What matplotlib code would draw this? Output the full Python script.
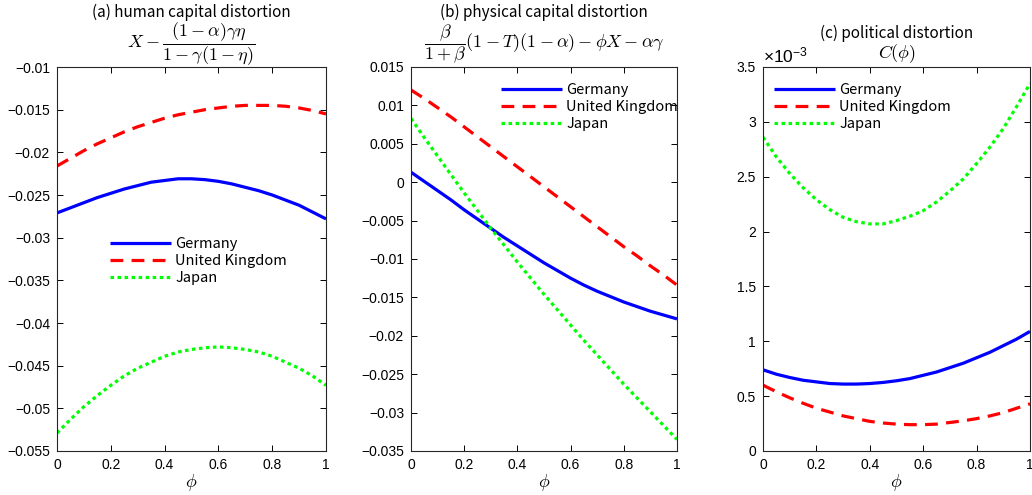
import numpy as np
import matplotlib
matplotlib.use("Agg")
import matplotlib.pyplot as plt
from matplotlib.ticker import FuncFormatter

plt.rcParams['font.family'] = ['Liberation Sans', 'DejaVu Sans']
plt.rcParams['mathtext.fontset'] = 'cm'

# Werte
phi = [0.00, 0.05, 0.10, 0.15, 0.20, 0.25, 0.30, 0.35, 0.40, 0.45, 0.50,
       0.55, 0.60, 0.65, 0.70, 0.75, 0.80, 0.85, 0.90, 0.95, 1.00]
countries = ["Germany", "United Kingdom", "Japan"]

# (a) human capital distortion
human_de = [-0.0271, -0.0265, -0.0259, -0.0253, -0.0248, -0.0243, -0.0239, -0.0235, -0.0233, -0.0231, -0.0231,
            -0.0232, -0.0234, -0.0237, -0.0241, -0.0245, -0.0250, -0.0256, -0.0262, -0.0270, -0.0278]
human_uk = [-0.0216, -0.0207, -0.0198, -0.0190, -0.0183, -0.0176, -0.0170, -0.0165, -0.0160, -0.0156, -0.0153,
            -0.0150, -0.0148, -0.0146, -0.0145, -0.0145, -0.0145, -0.0146, -0.0148, -0.0151, -0.0155]
human_jp = [-0.0529, -0.0513, -0.0498, -0.0485, -0.0473, -0.0462, -0.0453, -0.0446, -0.0439, -0.0434, -0.0431,
            -0.0429, -0.0428, -0.0429, -0.0431, -0.0434, -0.0439, -0.0446, -0.0453, -0.0462, -0.0473]

# (b) physical capital distortion
phys_de = [0.0013, 0.0001, -0.0011, -0.0023, -0.0036, -0.0048, -0.0060, -0.0072, -0.0083, -0.0094, -0.0105,
           -0.0115, -0.0125, -0.0134, -0.0142, -0.0149, -0.0156, -0.0162, -0.0168, -0.0173, -0.0178]
phys_uk = [0.0120, 0.0109, 0.0097, 0.0085, 0.0072, 0.0059, 0.0046, 0.0033, 0.0020, 0.0007, -0.0006,
           -0.0019, -0.0032, -0.0045, -0.0058, -0.0071, -0.0084, -0.0096, -0.0109, -0.0121, -0.0134]
phys_jp = [0.0083, 0.0058, 0.0034, 0.0010, -0.0014, -0.0037, -0.0060, -0.0082, -0.0104, -0.0125, -0.0146,
           -0.0166, -0.0186, -0.0206, -0.0225, -0.0244, -0.0263, -0.0281, -0.0299, -0.0317, -0.0335]

# (c) political distortion, in 1e-3
pol_de = [0.74, 0.70, 0.67, 0.645, 0.63, 0.615, 0.61, 0.61, 0.615, 0.625, 0.64,
          0.66, 0.69, 0.72, 0.76, 0.80, 0.85, 0.90, 0.96, 1.02, 1.09]
pol_uk = [0.60, 0.54, 0.485, 0.435, 0.39, 0.355, 0.32, 0.295, 0.27, 0.255, 0.245,
          0.24, 0.24, 0.245, 0.26, 0.275, 0.295, 0.32, 0.35, 0.39, 0.43]
pol_jp = [2.86, 2.68, 2.53, 2.40, 2.29, 2.20, 2.13, 2.09, 2.07, 2.07, 2.10,
          2.14, 2.19, 2.27, 2.37, 2.48, 2.62, 2.77, 2.94, 3.14, 3.35]

titles = ["(a) human capital distortion", "(b) physical capital distortion", "(c) political distortion"]
formulas = [r"$X-\dfrac{(1-\alpha)\gamma\eta}{1-\gamma(1-\eta)}$",
            r"$\dfrac{\beta}{1+\beta}(1-T)(1-\alpha)-\phi X-\alpha\gamma$",
            r"$C(\phi)$"]

fig = plt.figure(figsize=(10.32, 4.95), dpi=100)
W, H = 1032, 495
boxes = [(57, 326), (411, 677), (763, 1030)]
top, bottom = 67, 451
axes = []
for l, r in boxes:
    ax = fig.add_axes([l / W, (H - bottom) / H, (r - l) / W, (bottom - top) / H])
    axes.append(ax)

styles = [dict(color=(0, 0, 1), linestyle="-"),
          dict(color=(1, 0, 0), linestyle=(0, (4, 2.6))),
          dict(color=(0, 1, 0), linestyle=(0, (1.1, 1.1)))]

data = [
    ([human_de, human_uk, human_jp], np.arange(-0.055, -0.0099, 0.005), (-0.055, -0.01), 1),
    ([phys_de, phys_uk, phys_jp], np.arange(-0.035, 0.0151, 0.005), (-0.035, 0.015), 1),
    ([pol_de, pol_uk, pol_jp], np.arange(0, 3.51, 0.5), (0, 3.5), 1e-3),
]

for ax, (series, yt, ylim, scale) in zip(axes, data):
    for s, name, st in zip(series, countries, styles):
        ax.plot(phi, np.array(s) * scale, lw=2.3, label=name,
                solid_capstyle="butt", dash_capstyle="butt", **st)
    ax.set_xlim(0, 1)
    ax.set_ylim(ylim[0] * scale, ylim[1] * scale)
    ax.set_xticks([0, 0.2, 0.4, 0.6, 0.8, 1])
    ax.set_xticklabels(["0", "0.2", "0.4", "0.6", "0.8", "1"])
    ax.set_yticks(yt * scale)
    ax.yaxis.set_major_formatter(FuncFormatter(lambda v, p, sc=scale: f"{round(v / sc, 6):g}".replace("-", "\u2212")))
    ax.tick_params(direction="in", top=True, right=True, length=4, width=0.7,
                   labelsize=10, colors="black", pad=5)
    for sp in ax.spines.values():
        sp.set_linewidth(0.8)
        sp.set_color((0.15, 0.15, 0.15))
    ax.set_xlabel(r"$\phi$", fontsize=13, labelpad=0)

# Titel
title_y = [(12, 44), (12, 44), (33, 54)]
for (l, r), t, f, (y1, y2) in zip(boxes, titles, formulas, title_y):
    cx = (l + r) / 2 / W
    fig.text(cx, 1 - y1 / H, t, ha="center", va="center", fontsize=11,
             family=["Noto Sans CJK JP", "DejaVu Sans"])
    fig.text(cx, 1 - y2 / H, f, ha="center", va="center", fontsize=13)

axes[2].text(0.0, 1.003, r"$\mathdefault{\times10^{-3}}$", transform=axes[2].transAxes,
             ha="left", va="bottom", fontsize=12.5)

# Legenden
leg_pos = [(100, 227), (491, 73), (764, 73)]
for ax, (lx, ly) in zip(axes, leg_pos):
    ax.legend(loc="upper left", bbox_to_anchor=(lx / W, 1 - ly / H),
              bbox_transform=fig.transFigure, frameon=False,
              prop=dict(family=["Noto Sans CJK JP", "DejaVu Sans"], size=10.5),
              handlelength=4.2, handletextpad=0.25, labelspacing=0.2, borderpad=0.2)

fig.savefig("out.png", dpi=100)
